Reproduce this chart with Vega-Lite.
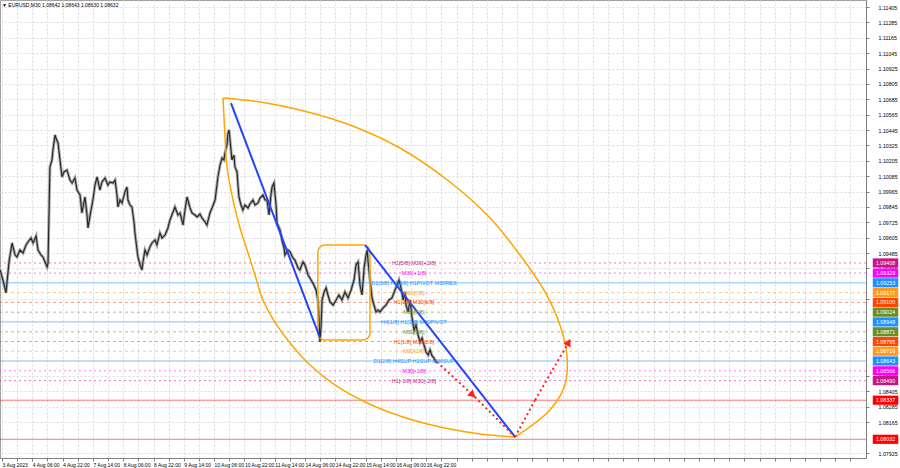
{
  "$schema": "https://vega.github.io/schema/vega-lite/v6.json",
  "width": 866,
  "height": 458,
  "autosize": {"type": "none"},
  "padding": {"left": 0, "top": 0, "right": 34, "bottom": 10},
  "background": "white",
  "title": {"text": "▼ EURUSD,M30  1.08642 1.08643 1.08630 1.08632", "anchor": "start", "frame": "group", "offset": -8, "dx": 2, "fontSize": 5, "fontWeight": "normal", "font": "Liberation Sans", "color": "#000000"},
  "config": {
    "view": {"stroke": "#a0a0a0"},
    "font": "Liberation Sans",
    "axis": {"labelOverlap": false, "labelBound": false, "labelFlush": false, "labelFont": "Liberation Sans", "labelFontSize": 5.3, "labelColor": "#000000", "tickSize": 3, "tickColor": "#808080", "domainColor": "#808080", "gridColor": "#dcdcdc", "gridDash": [2, 2], "title": null, "tickCount": 200}
  },
  "datasets": {
    "price": [
      {"t":-1.0,"p":1.09353},{"t":0.5,"p":1.09275},{"t":2.1,"p":1.09174},{"t":3.7,"p":1.09416},{"t":5.3,"p":1.09564},{"t":6.9,"p":1.09470},{"t":7.9,"p":1.09455},{"t":9.5,"p":1.09509},{"t":11.1,"p":1.09486},{"t":12.7,"p":1.09548},{"t":13.7,"p":1.09572},{"t":15.3,"p":1.09603},{"t":16.4,"p":1.09564},{"t":18.0,"p":1.09618},{"t":19.0,"p":1.09509},{"t":20.6,"p":1.09470},{"t":21.6,"p":1.09455},{"t":22.7,"p":1.09416},{"t":23.8,"p":1.09377},{"t":24.3,"p":1.09408},
      {"t":25.3,"p":1.10157},{"t":26.4,"p":1.10212},{"t":26.9,"p":1.10289},{"t":28.0,"p":1.10407},{"t":28.5,"p":1.10383},{"t":29.6,"p":1.10344},{"t":30.6,"p":1.10212},{"t":31.7,"p":1.10079},{"t":32.7,"p":1.10118},{"t":34.3,"p":1.10133},{"t":35.9,"p":1.10055},{"t":37.0,"p":1.10032},{"t":38.5,"p":1.10071},{"t":39.6,"p":1.09977},{"t":41.2,"p":1.09938},{"t":42.2,"p":1.09798},{"t":43.8,"p":1.09923},{"t":44.9,"p":1.09782},{"t":45.4,"p":1.09681},{"t":47.0,"p":1.09821},{"t":48.0,"p":1.09899},{"t":49.1,"p":1.10016},{"t":50.2,"p":1.10079},{"t":51.7,"p":1.09977},{"t":52.8,"p":1.10040},{"t":54.4,"p":1.10071},{"t":55.9,"p":1.10016},{"t":57.0,"p":1.10040},{"t":58.6,"p":1.10032},{"t":59.7,"p":1.10055},{"t":60.7,"p":1.09938},{"t":61.2,"p":1.09845},{"t":62.3,"p":1.09899},{"t":63.4,"p":1.09876},{"t":64.9,"p":1.09962},{"t":66.0,"p":1.10001},{"t":66.5,"p":1.09899},{"t":67.6,"p":1.09860},{"t":68.6,"p":1.09845},{"t":69.7,"p":1.09728},{"t":70.2,"p":1.09642},{"t":71.3,"p":1.09509},{"t":71.8,"p":1.09455},{"t":72.9,"p":1.09392},{"t":73.9,"p":1.09353},{"t":74.4,"p":1.09416},{"t":75.5,"p":1.09509},{"t":76.6,"p":1.09470},{"t":78.1,"p":1.09533},{"t":79.2,"p":1.09564},{"t":80.8,"p":1.09587},{"t":81.8,"p":1.09548},{"t":83.4,"p":1.09642},{"t":84.5,"p":1.09603},{"t":86.1,"p":1.09626},{"t":87.6,"p":1.09681},{"t":88.7,"p":1.09743},{"t":90.3,"p":1.09806},{"t":91.3,"p":1.09845},{"t":92.9,"p":1.09782},{"t":94.0,"p":1.09798},{"t":95.6,"p":1.09704},{"t":96.6,"p":1.09821},{"t":97.7,"p":1.09923},{"t":99.3,"p":1.09837},{"t":100.3,"p":1.09798},{"t":101.9,"p":1.09782},{"t":103.0,"p":1.09767},{"t":104.5,"p":1.09790},{"t":105.6,"p":1.09759},{"t":107.2,"p":1.09728},{"t":108.2,"p":1.09704},{"t":109.8,"p":1.09798},{"t":110.9,"p":1.09837},{"t":112.5,"p":1.09899},{"t":113.5,"p":1.10016},{"t":114.0,"p":1.10079},{"t":115.1,"p":1.10172},{"t":116.2,"p":1.10227},{"t":117.2,"p":1.10212},{"t":117.7,"p":1.10266},{"t":118.8,"p":1.10329},{"t":119.3,"p":1.10422},{"t":119.9,"p":1.10446},{"t":120.9,"p":1.10289},{"t":121.4,"p":1.10212},{"t":122.5,"p":1.10250},{"t":123.0,"p":1.10157},{"t":124.1,"p":1.10118},{"t":124.6,"p":1.10016},{"t":125.1,"p":1.09923},{"t":126.2,"p":1.09860},{"t":127.2,"p":1.09821},{"t":128.3,"p":1.09860},{"t":129.9,"p":1.09837},{"t":130.9,"p":1.09868},{"t":132.5,"p":1.09899},{"t":133.6,"p":1.09860},{"t":135.2,"p":1.09876},{"t":136.2,"p":1.09915},{"t":137.8,"p":1.09938},{"t":138.9,"p":1.09899},{"t":139.9,"p":1.09899},{"t":141.0,"p":1.09782},{"t":142.0,"p":1.09938},{"t":142.6,"p":1.10001},{"t":143.6,"p":1.10032},{"t":144.7,"p":1.09860},{"t":145.2,"p":1.09720},{"t":146.8,"p":1.09665},{"t":147.8,"p":1.09587},{"t":148.9,"p":1.09525},{"t":149.4,"p":1.09470},{"t":151.0,"p":1.09509},{"t":152.1,"p":1.09494},{"t":153.6,"p":1.09447},{"t":154.7,"p":1.09431},{"t":156.3,"p":1.09369},{"t":157.3,"p":1.09353},{"t":158.9,"p":1.09416},{"t":160.0,"p":1.09392},{"t":161.6,"p":1.09314},{"t":163.2,"p":1.09275},{"t":164.7,"p":1.09236},{"t":165.8,"p":1.09197},{"t":166.8,"p":1.09119},{"t":167.4,"p":1.08963},{"t":167.9,"p":1.08791},{"t":168.5,"p":1.08924},{"t":169.0,"p":1.09119},{"t":170.1,"p":1.09182},{"t":171.1,"p":1.09213},{"t":172.1,"p":1.09158},{"t":173.2,"p":1.09104},{"t":174.8,"p":1.09080},{"t":176.4,"p":1.09119},{"t":177.9,"p":1.09158},{"t":179.5,"p":1.09119},{"t":181.1,"p":1.09182},{"t":182.7,"p":1.09135},{"t":184.3,"p":1.09197},{"t":185.9,"p":1.09275},{"t":186.9,"p":1.09392},{"t":188.0,"p":1.09416},{"t":189.0,"p":1.09236},{"t":190.1,"p":1.09158},{"t":191.2,"p":1.09369},{"t":192.2,"p":1.09470},{"t":192.8,"p":1.09509},{"t":193.3,"p":1.09416},{"t":194.3,"p":1.09275},{"t":195.4,"p":1.09135},{"t":196.4,"p":1.09080},{"t":197.5,"p":1.09026},{"t":198.5,"p":1.09041},{"t":199.6,"p":1.09026},{"t":201.2,"p":1.09057},{"t":202.8,"p":1.09080},{"t":204.3,"p":1.09119},{"t":205.9,"p":1.09135},{"t":207.5,"p":1.09197},{"t":208.6,"p":1.09236},{"t":209.6,"p":1.09275},{"t":210.7,"p":1.09213},{"t":211.8,"p":1.09119},{"t":212.8,"p":1.09182},{"t":213.3,"p":1.09080},{"t":214.4,"p":1.09026},{"t":215.5,"p":1.09119},{"t":216.5,"p":1.08979},{"t":217.6,"p":1.08885},{"t":218.6,"p":1.08924},{"t":219.7,"p":1.08846},{"t":220.7,"p":1.08791},{"t":221.8,"p":1.08822},{"t":222.8,"p":1.08768},{"t":223.9,"p":1.08713},{"t":225.0,"p":1.08690},{"t":226.0,"p":1.08729},{"t":227.1,"p":1.08682},{"t":228.1,"p":1.08666},{"t":229.2,"p":1.08635},{"t":230.2,"p":1.08632}
    ],
    "levels": [
      {"p":1.09408,"kind":"violet","label":"H1[5/8] M30[+2/8]"},
      {"p":1.09329,"kind":"magenta","label":"M30[+1/8]"},
      {"p":1.09253,"kind":"blue","label":"D1[3/8] H4[3/8] H1PIVOT M30RES"},
      {"p":1.09177,"kind":"orange","label":"M30[7/8]"},
      {"p":1.09100,"kind":"orangered","label":"H1[3/8] M30[6/8]"},
      {"p":1.09024,"kind":"olive","label":"M30[5/8]"},
      {"p":1.08948,"kind":"blue","label":"H4[1/8] H1[2/8] M30PIVOT"},
      {"p":1.08871,"kind":"olive","label":"M30[3/8]"},
      {"p":1.08795,"kind":"orangered","label":"H1[1/8] M30[2/8]"},
      {"p":1.08719,"kind":"orange","label":"M30[1/8]"},
      {"p":1.08643,"kind":"blue","label":"D1[2/8] H4SUP H1SUP M30SUP"},
      {"p":1.08566,"kind":"magenta","label":"M30[-1/8]"},
      {"p":1.08490,"kind":"violet","label":"H1[-1/8] M30[-2/8]"},
      {"p":1.08337,"kind":"red","label":""},
      {"p":1.08032,"kind":"red","label":""}
    ],
    "arcs": [
      {"arc":"L","i":0,"t":116.7,"p":1.10695},{"arc":"L","i":1,"t":117.7,"p":1.10407},{"arc":"L","i":2,"t":118.8,"p":1.10157},{"arc":"L","i":3,"t":122.0,"p":1.09899},{"arc":"L","i":4,"t":125.7,"p":1.09681},{"arc":"L","i":5,"t":129.4,"p":1.09509},{"arc":"L","i":6,"t":133.6,"p":1.09314},{"arc":"L","i":7,"t":137.8,"p":1.09119},{"arc":"L","i":8,"t":144.1,"p":1.08947},{"arc":"L","i":9,"t":152.1,"p":1.08784},{"arc":"L","i":10,"t":162.6,"p":1.08612},{"arc":"L","i":11,"t":175.8,"p":1.08456},{"arc":"L","i":12,"t":191.7,"p":1.08323},{"arc":"L","i":13,"t":210.1,"p":1.08214},{"arc":"L","i":14,"t":231.3,"p":1.08128},{"arc":"L","i":15,"t":252.4,"p":1.08073},{"arc":"L","i":16,"t":270.9,"p":1.08050},
      {"arc":"R","i":0,"t":116.7,"p":1.10695},{"arc":"R","i":1,"t":136.2,"p":1.10664},{"arc":"R","i":2,"t":157.3,"p":1.10602},{"arc":"R","i":3,"t":183.7,"p":1.10485},{"arc":"R","i":4,"t":210.1,"p":1.10305},{"arc":"R","i":5,"t":236.5,"p":1.10040},{"arc":"R","i":6,"t":257.7,"p":1.09759},{"arc":"R","i":7,"t":273.5,"p":1.09470},{"arc":"R","i":8,"t":286.7,"p":1.09182},{"arc":"R","i":9,"t":294.6,"p":1.08924},{"arc":"R","i":10,"t":298.3,"p":1.08690},{"arc":"R","i":11,"t":297.2,"p":1.08456},{"arc":"R","i":12,"t":289.3,"p":1.08261},{"arc":"R","i":13,"t":270.9,"p":1.08050}
    ],
    "trend": [
      {"seg":"A","t":120.9,"p":1.10656},{"seg":"A","t":167.9,"p":1.08823},
      {"seg":"B","t":191.7,"p":1.09548},{"seg":"B","t":270.9,"p":1.08050}
    ],
    "box": [
      {"t0":166.8,"t1":194.3,"p0":1.08807,"p1":1.09548}
    ],
    "arrows": [
      {"leg":"move1","kind":"actual","t":229.7,"p":1.08635},{"leg":"move1","kind":"actual","t":249.7,"p":1.08362},
      {"leg":"proj1","kind":"projected","t":249.7,"p":1.08362},{"leg":"proj1","kind":"projected","t":270.9,"p":1.08050},
      {"leg":"proj2","kind":"projected","t":270.9,"p":1.08050},{"leg":"proj2","kind":"projected","t":281.5,"p":1.08339},
      {"leg":"move2","kind":"actual","t":281.5,"p":1.08339},{"leg":"move2","kind":"actual","t":299.9,"p":1.08807}
    ]
  },
  "layer": [
    {
      "data": {"name": "price"},
      "mark": {"type": "line", "color": "#a8a8a8", "strokeWidth": 3},
      "encoding": {
        "x": {"field": "t", "type": "quantitative", "scale": {"domain": [-1.06, 456.2], "nice": false, "zero": false},
          "axis": {"orient": "bottom", "tickCount": 200, "values": [0,8,16,24,32,40,48,56,64,72,80,88,96,104,112,120,128,136,144,152,160,168,176,184,192,200,208,216,224,232,240,248,256,264,272,280,288,296,304,312,320,328,336,344,352,360,368,376,384,392,400,408,416,424,432,440,448],
            "labelExpr": "(datum.value % 16 == 0 && datum.value <= 224) ? ['3 Aug 2023','4 Aug 06:00','4 Aug 22:00','7 Aug 14:00','8 Aug 06:00','8 Aug 22:00','9 Aug 14:00','10 Aug 06:00','10 Aug 22:00','11 Aug 14:00','14 Aug 06:00','14 Aug 22:00','15 Aug 14:00','16 Aug 06:00','16 Aug 22:00'][datum.value / 16] : ''",
            "labelAlign": "left", "labelFontSize": 5, "labelPadding": 1, "grid": true, "labelOverlap": false}},
        "y": {"field": "p", "type": "quantitative", "scale": {"domain": [1.07886, 1.1146], "nice": false, "zero": false},
          "axis": {"orient": "right", "tickCount": 200, "values": [1.07925,1.08165,1.08285,1.08405,1.08525,1.09125,1.09365,1.09485,1.09605,1.09725,1.09845,1.09965,1.10085,1.10205,1.10325,1.10445,1.10565,1.10685,1.10805,1.10925,1.11045,1.11165,1.11285,1.11405],
            "format": ".5f", "labelPadding": 9, "grid": true, "labelOverlap": false}}
      }
    },
    {
      "data": {"name": "levels"},
      "mark": {"type": "rule", "strokeWidth": 1, "opacity": 0.55},
      "encoding": {
        "y": {"field": "p", "type": "quantitative"},
        "color": {"field": "kind", "type": "nominal", "legend": null,
          "scale": {"domain": ["violet","magenta","blue","orange","orangered","olive","red"], "range": ["#c71585","#ff00ff","#1e90ff","#ff9a1f","#ff4500","#6b8e23","#ff0000"]}},
        "strokeDash": {"field": "kind", "type": "nominal", "legend": null,
          "scale": {"domain": ["violet","magenta","blue","orange","orangered","olive","red"], "range": [[2,3],[2,3],[1,0],[3,3],[3,3],[3,3],[1,0]]}}
      }
    },
    {
      "data": {"name": "price"},
      "mark": {"type": "line", "color": "#262626", "strokeWidth": 1.1},
      "encoding": {"x": {"field": "t", "type": "quantitative"}, "y": {"field": "p", "type": "quantitative"}}
    },
    {
      "data": {"name": "box"},
      "mark": {"type": "rect", "fillOpacity": 0, "stroke": "#ffa500", "strokeWidth": 1.5, "cornerRadius": 7},
      "encoding": {
        "x": {"field": "t0", "type": "quantitative"}, "x2": {"field": "t1"},
        "y": {"field": "p0", "type": "quantitative"}, "y2": {"field": "p1"}
      }
    },
    {
      "data": {"name": "arcs"},
      "mark": {"type": "line", "color": "#ffa500", "strokeWidth": 1.5, "interpolate": "catmull-rom"},
      "encoding": {
        "x": {"field": "t", "type": "quantitative"}, "y": {"field": "p", "type": "quantitative"},
        "detail": {"field": "arc"}, "order": {"field": "i", "type": "quantitative"}}
    },
    {
      "data": {"name": "trend"},
      "mark": {"type": "line", "color": "#1f45ff", "strokeWidth": 2},
      "encoding": {
        "x": {"field": "t", "type": "quantitative"}, "y": {"field": "p", "type": "quantitative"},
        "detail": {"field": "seg"}}
    },
    {
      "data": {"name": "arrows"},
      "mark": {"type": "line", "color": "#ff2020", "strokeWidth": 2},
      "encoding": {
        "x": {"field": "t", "type": "quantitative"}, "y": {"field": "p", "type": "quantitative"},
        "detail": {"field": "leg"},
        "strokeDash": {"field": "kind", "type": "nominal", "legend": null, "scale": {"domain": ["actual","projected"], "range": [[1,0],[5,4]]}}
      }
    },
    {
      "data": {"values": [{"t": 248.5, "p": 1.08378}]},
      "mark": {"type": "point", "shape": "triangle-up", "filled": true, "color": "#ff2020", "size": 70, "angle": 133, "opacity": 1},
      "encoding": {"x": {"field": "t", "type": "quantitative"}, "y": {"field": "p", "type": "quantitative"}}
    },
    {
      "data": {"values": [{"t": 299.2, "p": 1.08790}]},
      "mark": {"type": "point", "shape": "triangle-up", "filled": true, "color": "#ff2020", "size": 70, "angle": 30, "opacity": 1},
      "encoding": {"x": {"field": "t", "type": "quantitative"}, "y": {"field": "p", "type": "quantitative"}}
    },
    {
      "data": {"name": "levels"},
      "mark": {"type": "text", "fontSize": 5.5, "align": "center", "baseline": "middle", "font": "Liberation Sans"},
      "encoding": {
        "x": {"datum": 217.5, "type": "quantitative"},
        "y": {"field": "p", "type": "quantitative"},
        "text": {"field": "label"},
        "color": {"field": "kind", "type": "nominal", "legend": null}
      }
    },
    {
      "data": {"name": "levels"},
      "mark": {"type": "point", "filled": true, "opacity": 1, "size": 650, "shape": "M-1,-0.36H1V0.36H-1Z"},
      "encoding": {
        "x": {"datum": 466.5, "type": "quantitative"},
        "y": {"field": "p", "type": "quantitative"},
        "color": {"field": "kind", "type": "nominal", "legend": null}
      }
    },
    {
      "data": {"name": "levels"},
      "mark": {"type": "text", "fontSize": 5.3, "align": "center", "baseline": "middle", "color": "#ffffff", "font": "Liberation Sans"},
      "encoding": {
        "x": {"datum": 466.5, "type": "quantitative"},
        "y": {"field": "p", "type": "quantitative"},
        "text": {"field": "p", "type": "quantitative", "format": ".5f"}
      }
    }
  ]
}
